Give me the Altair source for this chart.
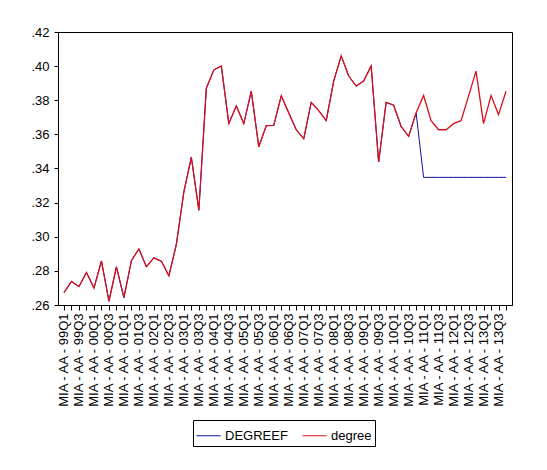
import altair as alt
import pandas as pd

years = ["99", "00", "01", "02", "03", "04", "05", "06", "07", "08", "09", "10", "11", "12", "13"]
qtrs = ["Q1", "Q2", "Q3", "Q4"]
periods = [f"MIA - AA - {y}{q}" for y in years for q in qtrs]

degree = [
    0.2673, 0.2738, 0.2708, 0.2791, 0.2699, 0.2858, 0.2622, 0.2824, 0.2643, 0.2860,
    0.2929, 0.2824, 0.2877, 0.2856, 0.2771, 0.2956, 0.3263, 0.3466, 0.3155, 0.3871,
    0.3978, 0.4001, 0.3663, 0.3767, 0.3663, 0.3853, 0.3527, 0.3651, 0.3653, 0.3826,
    0.3726, 0.3627, 0.3574, 0.3788, 0.3739, 0.3680, 0.3912, 0.4060, 0.3942, 0.3883,
    0.3912, 0.4001, 0.3438, 0.3788, 0.3771, 0.3647, 0.3588, 0.3726, 0.3828, 0.3680,
    0.3627, 0.3627, 0.3663, 0.3680, 0.3824, 0.3971, 0.3663, 0.3828, 0.3716, 0.3853,
]
degreef = degree[:48] + [0.3348] * 12

series_names = ["DEGREEF", "degree"]
series_colors = ["#1010a0", "#d8101c"]

rows = []
for i, p in enumerate(periods):
    rows.append({"period": p, "idx": i, "series": "DEGREEF", "value": degreef[i]})
for i, p in enumerate(periods):
    rows.append({"period": p, "idx": i, "series": "degree", "value": degree[i]})
df = pd.DataFrame(rows)

x_enc = alt.X(
    "period:N",
    sort=periods,
    title=None,
    scale=alt.Scale(type="point", padding=0.8),
    axis=alt.Axis(
        labelAngle=-90,
        labelExpr="(indexof(datum.label,'Q1')>=0 || indexof(datum.label,'Q3')>=0) ? datum.label : ''",
        labelFont="Liberation Sans",
        labelFontSize=13,
        labelColor="black",
        labelPadding=3,
        tickSize=5,
        tickColor="black",
        domainColor="black",
        grid=False,
        labelOverlap=False,
    ),
)
y_enc = alt.Y(
    "value:Q",
    title=None,
    scale=alt.Scale(domain=[0.26, 0.42], nice=False, zero=False),
    axis=alt.Axis(
        values=[0.26, 0.28, 0.30, 0.32, 0.34, 0.36, 0.38, 0.40, 0.42],
        labelExpr="replace(format(datum.value, '.2f'), '0.', '.')",
        labelFont="Liberation Sans",
        labelFontSize=13,
        labelColor="black",
        labelPadding=5,
        tickSize=4,
        tickColor="black",
        domainColor="black",
        grid=False,
    ),
)
color_enc = alt.Color(
    "series:N",
    scale=alt.Scale(domain=series_names, range=series_colors),
    legend=alt.Legend(
        title=None,
        orient="none",
        legendX=135,
        legendY=388,
        direction="horizontal",
        symbolType="stroke",
        symbolSize=576,
        symbolStrokeWidth=1,
        labelFont="Liberation Sans",
        labelFontSize=13,
        labelColor="black",
        strokeColor="black",
        padding=3,
        columnPadding=12,
        labelOffset=4,
    ),
)

base = alt.Chart(df)
blue = base.transform_filter(alt.datum.series == "DEGREEF").mark_line(strokeWidth=1).encode(
    x=x_enc, y=y_enc, color=color_enc, order="idx:Q"
)
red = base.transform_filter(alt.datum.series == "degree").mark_line(strokeWidth=1.3).encode(
    x=x_enc, y=y_enc, color=color_enc, order="idx:Q"
)

chart = (
    alt.layer(blue, red)
    .properties(
        width=454,
        height=273,
        autosize=alt.AutoSizeParams(type="none"),
        padding={"left": 50, "top": 24, "right": 25, "bottom": 150},
        background="white",
    )
    .configure_view(stroke="black", strokeWidth=1)
)

chart.save("out.html", embed_options={"renderer": "svg", "actions": False})
